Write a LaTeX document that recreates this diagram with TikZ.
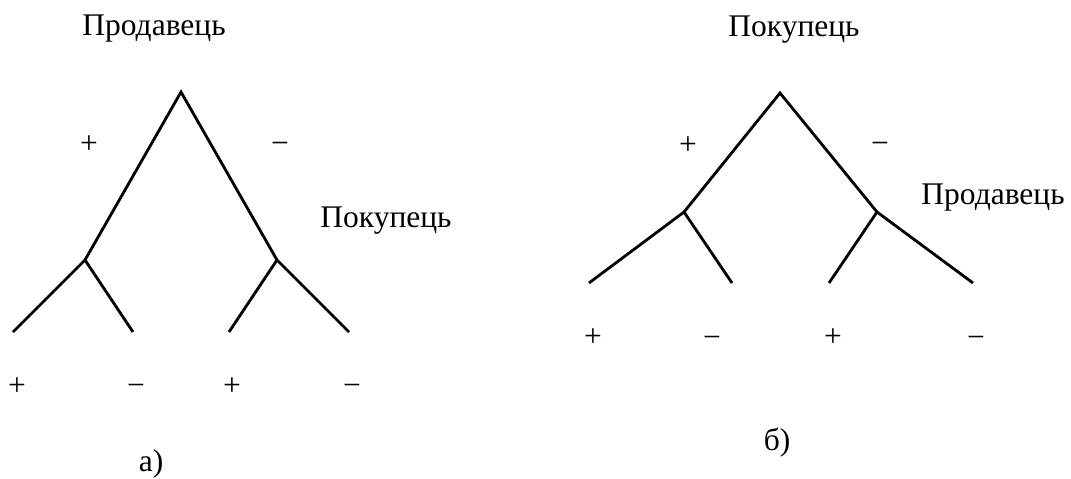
\documentclass[tikz,border=0pt]{standalone}
\usepackage{fontspec}
\setmainfont{Liberation Serif}
\begin{document}
\begin{tikzpicture}[x=1pt,y=-1pt,
  branch/.style={line width=2.8pt, line cap=butt, line join=miter},
  lbl/.style={anchor=base, inner sep=0pt, font=\fontsize{31.5}{36}\selectfont}]
\useasboundingbox (0,0) rectangle (1071,479);
% ---- left tree (a) ----
\coordinate (aA) at (181,92);
\coordinate (aJL) at (85,260);
\coordinate (aJR) at (277,260);
\coordinate (aL1) at (13,332);
\coordinate (aL2) at (133,332);
\coordinate (aL3) at (229,332);
\coordinate (aL4) at (349,332);
\draw[branch] (aJL) -- (aA) -- (aJR);
\draw[branch] (aL1) -- (aJL) -- (aL2);
\draw[branch] (aL3) -- (aJR) -- (aL4);
\node[lbl] (aT) at (154,35) {Продавець};
\node[lbl] (aP) at (89,153) {+};
\node[lbl] (aM) at (280,153) {−};
\node[lbl] (aS) at (386,227) {Покупець};
\node[lbl] (ab1) at (17,395) {+};
\node[lbl] (ab2) at (136,395) {−};
\node[lbl] (ab3) at (232,395) {+};
\node[lbl] (ab4) at (352,395) {−};
\node[lbl] (aCap) at (151,471) {а)};
% ---- right tree (b) ----
\coordinate (bA) at (780,93);
\coordinate (bJL) at (684,212);
\coordinate (bJR) at (877,212);
\coordinate (bL1) at (589,283);
\coordinate (bL2) at (732,283);
\coordinate (bL3) at (829,283);
\coordinate (bL4) at (973,283);
\draw[branch] (bJL) -- (bA) -- (bJR);
\draw[branch] (bL1) -- (bJL) -- (bL2);
\draw[branch] (bL3) -- (bJR) -- (bL4);
\node[lbl] (bT) at (794,36) {Покупець};
\node[lbl] (bP) at (688,154) {+};
\node[lbl] (bM) at (880,153) {−};
\node[lbl] (bS) at (993,204) {Продавець};
\node[lbl] (bb1) at (593,346) {+};
\node[lbl] (bb2) at (712,347) {−};
\node[lbl] (bb3) at (833,346) {+};
\node[lbl] (bb4) at (976,347) {−};
\node[lbl] (bCap) at (777,450) {б)};
\end{tikzpicture}
\end{document}
